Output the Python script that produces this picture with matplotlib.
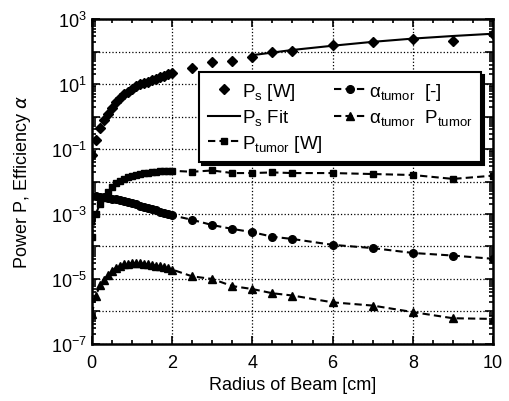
import numpy as np
import matplotlib.pyplot as plt
from matplotlib.ticker import FixedLocator, FuncFormatter, MultipleLocator, LogLocator, NullFormatter

plt.rcParams['font.family'] = ['Liberation Sans', 'DejaVu Sans']
plt.rcParams['mathtext.default'] = 'regular'

# raio do feixe [cm]: região densa (0-2) e pontos esparsos (2.5-10)
r_denso = [0.0, 0.1, 0.2, 0.3, 0.4, 0.5, 0.6, 0.7, 0.8, 0.9, 1.0,
           1.1, 1.2, 1.3, 1.4, 1.5, 1.6, 1.7, 1.8, 1.9, 2.0]
r_esparso = [2.5, 3.0, 3.5, 4.0, 4.5, 5.0, 6.0, 7.0, 8.0, 9.0, 10.0]

# valores em log10
log_ps_denso = [-1.18, -0.72, -0.35, -0.11, 0.09, 0.26, 0.44, 0.57, 0.68, 0.77, 0.85,
                0.93, 1.00, 1.04, 1.07, 1.12, 1.17, 1.21, 1.25, 1.30, 1.34]
log_ps_esparso = [1.49, 1.67, 1.72, 1.82, 1.98, 2.02, 2.20, 2.30, 2.38, 2.33, 2.54]

r_fit = [4.0, 5.0, 6.0, 7.0, 8.0, 9.0, 10.0]
log_ps_fit = [1.89, 2.05, 2.18, 2.30, 2.40, 2.48, 2.55]

log_ptumor_denso = [-3.70, -3.00, -2.70, -2.50, -2.33, -2.18, -2.06, -1.98, -1.92, -1.87, -1.83,
                    -1.80, -1.77, -1.75, -1.73, -1.72, -1.70, -1.69, -1.68, -1.67, -1.67]
log_ptumor_esparso = [-1.70, -1.66, -1.74, -1.74, -1.72, -1.74, -1.74, -1.77, -1.80, -1.92, -1.82]

log_alfa_denso = [-2.44, -2.46, -2.47, -2.49, -2.51, -2.53, -2.55, -2.58, -2.61, -2.64, -2.67,
                  -2.70, -2.74, -2.78, -2.82, -2.85, -2.89, -2.93, -2.96, -3.00, -3.04]
log_alfa_esparso = [-3.18, -3.34, -3.46, -3.56, -3.70, -3.77, -3.95, -4.05, -4.20, -4.28, -4.38]

log_alfap_denso = [-6.08, -5.52, -5.20, -5.03, -4.88, -4.76, -4.65, -4.59, -4.55, -4.53, -4.51,
                   -4.51, -4.51, -4.53, -4.55, -4.57, -4.59, -4.61, -4.63, -4.67, -4.71]
log_alfap_esparso = [-4.92, -5.00, -5.22, -5.31, -5.44, -5.51, -5.72, -5.82, -6.02, -6.21, -6.23]


def juntar(a, b):
    return np.array(a + b)


r = juntar(r_denso, r_esparso)
ps = 10 ** juntar(log_ps_denso, log_ps_esparso)
ptumor = 10 ** juntar(log_ptumor_denso, log_ptumor_esparso)
alfa = 10 ** juntar(log_alfa_denso, log_alfa_esparso)
alfap = 10 ** juntar(log_alfap_denso, log_alfap_esparso)
ps_fit = 10 ** np.array(log_ps_fit)

fig = plt.figure(figsize=(5.1, 4.02), dpi=100)
ax = fig.add_axes([0.180, 0.142, 0.787, 0.808])

tracejado = (0, (3.5, 2))
ax.plot(r, ps, 'D', color='k', ms=5, label=r'P$_s$ [W]')
ax.plot(r_fit, ps_fit, '-', color='k', lw=1.5, label=r'P$_s$ Fit')
ax.plot(r, ptumor, marker='s', ls=tracejado, color='k', ms=5, lw=1.5,
        label=r'P$_{tumor}$ [W]')
ax.plot(r, alfa, marker='o', ls=tracejado, color='k', ms=5.5, lw=1.5,
        label=r'$\alpha_{tumor}$  [-]')
ax.plot(r, alfap, marker='^', ls=tracejado, color='k', ms=5.5, lw=1.5,
        label=r'$\alpha_{tumor}$  P$_{tumor}$')

ax.set_yscale('log')
ax.set_xlim(0, 10)
ax.set_ylim(1e-7, 1e3)

ax.xaxis.set_major_locator(MultipleLocator(2))
ax.xaxis.set_minor_locator(MultipleLocator(0.5))
ax.yaxis.set_major_locator(FixedLocator([10.0 ** k for k in range(-7, 4)]))
ax.yaxis.set_minor_locator(LogLocator(base=10, subs=np.arange(2, 10), numticks=20))
ax.yaxis.set_minor_formatter(NullFormatter())


def rotulo_y(v, pos):
    k = int(round(np.log10(v)))
    if k % 2 == 0:
        return ''
    return r'$10^{%d}$' % k


ax.yaxis.set_major_formatter(FuncFormatter(rotulo_y))
ax.tick_params(which='both', direction='in', top=True, right=True, labelsize=13, width=1.2)
ax.tick_params(which='major', length=6)
ax.tick_params(which='minor', length=3)
ax.tick_params(axis='x', pad=7)

ax.grid(True, which='major', ls=':', color='k', lw=0.9)
for s in ax.spines.values():
    s.set_linewidth(1.8)

ax.set_xlabel('Radius of Beam [cm]', fontsize=13, labelpad=4)
ax.set_ylabel(r'Power P, Efficiency $\mathit{\alpha}$', fontsize=13, labelpad=13)

leg = ax.legend(ncol=2, loc='upper left', bbox_to_anchor=(0.268, 0.836), fontsize=13.5,
                frameon=True, fancybox=False, framealpha=1, edgecolor='k',
                shadow={'color': 'k', 'alpha': 1}, borderpad=0.45, labelspacing=0.3,
                handlelength=1.7, handletextpad=0.15, columnspacing=0.6,
                borderaxespad=0)
leg.get_frame().set_linewidth(1.5)

fig.savefig('out.png', dpi=100)
